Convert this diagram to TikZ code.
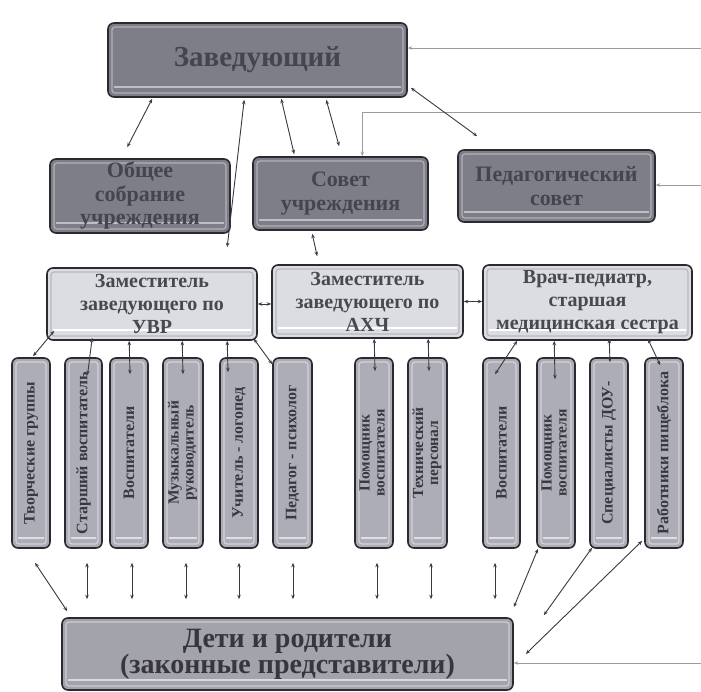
\documentclass[tikz,border=0pt]{standalone}
\usepackage{fontspec}
\setmainfont{Liberation Serif}
\usetikzlibrary{arrows.meta,calc,backgrounds}
\definecolor{edgec}{HTML}{2A2A30}
\definecolor{topfill}{HTML}{7E7E88}
\definecolor{toptext}{HTML}{45454F}
\definecolor{midfill}{HTML}{DCDCE3}
\definecolor{midtext}{HTML}{48484F}
\definecolor{vfill}{HTML}{ADADB7}
\definecolor{vtext}{HTML}{383840}
\definecolor{kfill}{HTML}{A3A3AB}
\definecolor{ktext}{HTML}{36363C}
\definecolor{linkc}{HTML}{3A3A40}
\definecolor{feedc}{HTML}{9A9AA0}
\begin{document}
\begin{tikzpicture}[x=1pt,y=-1pt,
  bevel/.style 2 args={path picture={
    \draw[draw=#1, line width=1.2pt, rounded corners=3pt]
      ([shift={(4pt,4pt)}]path picture bounding box.south west) rectangle
      ([shift={(-4pt,-4pt)}]path picture bounding box.north east);
    \draw[draw=#2, line width=2.5pt]
      ([shift={(6pt,10pt)}]path picture bounding box.south west) --
      ([shift={(-6pt,10pt)}]path picture bounding box.south east);}},
  base/.style={draw=edgec, line width=1.6pt, rounded corners=6pt, align=center, inner sep=1pt},
  zavbox/.style={base, fill=topfill, text=toptext, bevel={topfill!60!white}{topfill!50!white},
    font=\bfseries\fontsize{29}{31}\selectfont},
  topbox/.style={base, fill=topfill, text=toptext, bevel={topfill!60!white}{topfill!50!white},
    font=\bfseries\fontsize{22}{23.5}\selectfont},
  midbox/.style={base, fill=midfill, text=midtext, bevel={gray!55}{white},
    font=\bfseries\fontsize{20}{23}\selectfont},
  vbox/.style={base, fill=vfill, text=vtext, bevel={vfill!55!white}{vfill!40!white},
    minimum width=38, minimum height=190, inner sep=0pt},
  vone/.style={vbox, font=\bfseries\fontsize{16}{17}\selectfont},
  vtwo/.style={vbox, font=\bfseries\fontsize{15.5}{15}\selectfont},
  kidbox/.style={base, fill=kfill, text=ktext, bevel={kfill!55!white}{kfill!40!white},
    font=\bfseries\fontsize{28}{26}\selectfont},
  link/.style={draw=linkc, line width=0.9pt, {Stealth[length=4.5pt,width=3.5pt]}-{Stealth[length=4.5pt,width=3.5pt]}},
  feed/.style={draw=feedc, line width=0.9pt, -{Stealth[length=4.5pt,width=3.5pt]}}
]
\useasboundingbox[fill=white] (0,0) rectangle (701,692);

% top level
\node[zavbox, minimum width=299, minimum height=74] (zav) at (257.5,60) {Заведующий};
\node[topbox, minimum width=180, minimum height=74] (obsh) at (140,196) {Общее\\собрание\\учреждения};
\node[topbox, minimum width=175, minimum height=73] (sovet) at (340.5,193.5) {Совет\\учреждения};
\node[topbox, minimum width=197, minimum height=72] (ped) at (556.5,186) {Педагогический\\совет};

% middle level
\node[midbox, minimum width=210, minimum height=72] (uvr) at (152,304) {Заместитель\\заведующего по\\УВР};
\node[midbox, minimum width=191, minimum height=73] (axch) at (367.5,301.5) {Заместитель\\заведующего по\\АХЧ};
\node[midbox, minimum width=209, minimum height=75] (vrach) at (587.5,302.5) {Врач-педиатр,\\старшая\\медицинская сестра};

% vertical boxes
\node[vone] (v1) at (31,453) {\rotatebox{90}{Творческие группы}};
\node[vone, minimum width=37] (v2) at (83.5,453) {\rotatebox{90}{Старший воспитатель}};
\node[vone] (v3) at (129,453) {\rotatebox{90}{Воспитатели}};
\node[vtwo, minimum width=40] (v4) at (183,453) {\rotatebox{90}{\begin{tabular}{@{}c@{}}Музыкальный\\руководитель\end{tabular}}};
\node[vone] (v5) at (239,453) {\rotatebox{90}{Учитель - логопед}};
\node[vone, minimum width=39] (v6) at (292.5,453) {\rotatebox{90}{Педагог - психолог}};
\node[vtwo] (v7) at (374,453) {\rotatebox{90}{\begin{tabular}{@{}c@{}}Помощник\\воспитателя\end{tabular}}};
\node[vtwo, minimum width=39] (v8) at (427.5,453) {\rotatebox{90}{\begin{tabular}{@{}c@{}}Технический\\персонал\end{tabular}}};
\node[vone, minimum width=37] (v9) at (501.5,453) {\rotatebox{90}{Воспитатели}};
\node[vtwo] (v10) at (556,453) {\rotatebox{90}{\begin{tabular}{@{}c@{}}Помощник\\воспитателя\end{tabular}}};
\node[vone] (v11) at (609,453) {\rotatebox{90}{Специалисты ДОУ-}};
\node[vone] (v12) at (664,453) {\rotatebox{90}{Работники пищеблока}};

% bottom
\node[kidbox, minimum width=451, minimum height=72] (kids) at (287.5,654) {Дети и родители\\(законные представители)};

% free ends on the right edge
\coordinate (r1) at (701,48);
\coordinate (r2) at (701,112);
\coordinate (r3) at (701,185);
\coordinate (r4) at (701,663);

\begin{scope}[on background layer]
  \draw[link] ([xshift=-7pt,yshift=-10pt]zav.south east) -- ([xshift=17pt,yshift=12pt]vrach.north west);
\end{scope}

% inputs from the right
\draw[feed] (r1) -- (r1 -| zav.east);
\draw[feed] (r2) -| ([xshift=110pt]sovet.north west);
\draw[feed] (r3) -- (r3 -| ped.east);
\draw[feed] (r4) -- (r4 -| kids.east);

% from head
\draw[link] ([xshift=45pt,yshift=-1pt]zav.south west) -- ([xshift=78pt,yshift=11pt]obsh.north west);
\draw[link] ([xshift=137pt,yshift=-2pt]zav.south west) -- ([xshift=181pt,yshift=20pt]uvr.north west);
\draw[link] ([xshift=174pt,yshift=-1pt]zav.south west) -- ([xshift=42pt,yshift=2pt]sovet.north west);
\draw[link] ([xshift=219pt,yshift=-2pt]zav.south west) -- ([xshift=87pt,yshift=10pt]sovet.north west);
\draw[link] ([xshift=3pt,yshift=10pt]zav.south east) -- ([xshift=20pt,yshift=13pt]ped.north west);
\draw[link] ([xshift=60pt,yshift=-3pt]sovet.south west) -- ([xshift=46pt,yshift=8pt]axch.north west);

% middle row
\draw[link] (uvr.east) -- (uvr.east -| axch.west);
\draw[link] (axch.east) -- (axch.east -| vrach.west);

% middle to vertical
\draw[link] ([xshift=8pt,yshift=10pt]uvr.south west) -- ([xshift=2pt,yshift=1pt]v1.north);
\draw[link] ([xshift=46pt,yshift=3pt]uvr.south west) -- ([xshift=4pt,yshift=-18pt]v2.north);
\draw[link] ([xshift=83pt]uvr.south west) -- ([xshift=1pt,yshift=-17pt]v3.north);
\draw[link] ([xshift=136pt]uvr.south west) -- ([yshift=-17pt]v4.north);
\draw[link] ([xshift=181pt]uvr.south west) -- ([xshift=-11pt,yshift=-15pt]v5.north);
\draw[link] ([xshift=-4pt,yshift=2pt]uvr.south east) -- ([yshift=-7pt]v6.north west);
\draw[link] ([xshift=103pt]axch.south west) -- ([xshift=1pt,yshift=-14pt]v7.north);
\draw[link] ([xshift=157pt]axch.south west) -- ([xshift=1.5pt,yshift=-14pt]v8.north);
\draw[link] ([xshift=35pt]vrach.south west) -- ([xshift=-6.5pt,yshift=-17pt]v9.north);
\draw[link] ([xshift=72pt]vrach.south west) -- ([xshift=-1pt,yshift=-22pt]v10.north);
\draw[link] ([xshift=127pt,yshift=2pt]vrach.south west) -- ([xshift=1pt,yshift=-5pt]v11.north);
\draw[link] ([xshift=-45pt,yshift=2pt]vrach.south east) -- ([xshift=16pt,yshift=-8pt]v12.north west);

% vertical to bottom
\draw[link] ([xshift=4pt,yshift=-14pt]v1.south) -- ([xshift=6pt,yshift=6pt]kids.north west);
\foreach \v/\dx in {v2/3.5,v3/3,v4/3,v5/0,v6/0.5,v7/3,v8/3.5,v9/-6.5}
  \draw[link, shorten <=14pt, shorten >=18pt] ($(\v.south)+(\dx,0)$) -- ($(\v.south |- kids.north)+(\dx,0)$);
\draw[link] ([xshift=-18pt]v10.south) -- ([yshift=10pt]kids.north east);
\draw[link] ([xshift=-17pt,yshift=1pt]v11.south) -- ([xshift=30pt,yshift=2pt]kids.north east);
\draw[link] ([xshift=-2pt,yshift=8pt]v12.south west) -- ([xshift=12pt]kids.east);
\end{tikzpicture}
\end{document}
